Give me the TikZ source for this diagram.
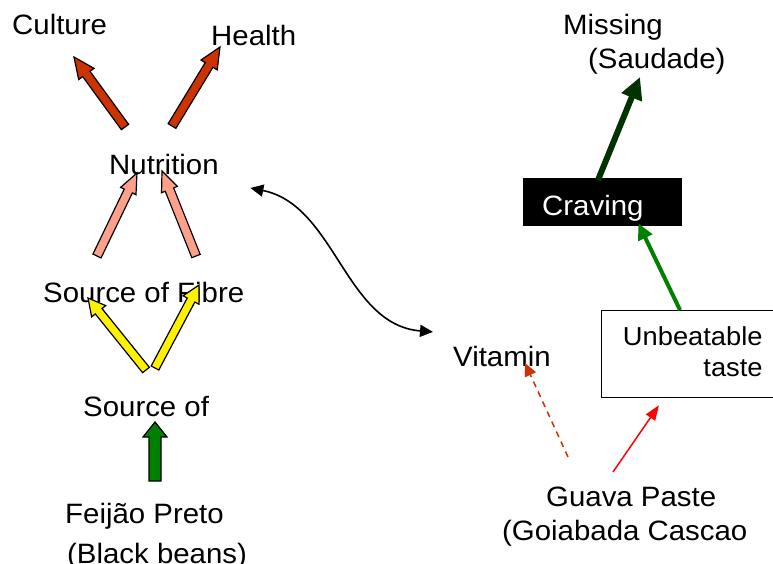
\documentclass[tikz,border=0pt]{standalone}
\usepackage{fontspec}
\setmainfont{Liberation Sans}[FakeStretch=1.05]
\usepackage{xcolor}
\usetikzlibrary{arrows.meta, calc, positioning}

\definecolor{rust}{RGB}{204,51,0}
\definecolor{salmon}{RGB}{255,160,138}
\definecolor{leafgreen}{RGB}{0,128,0}
\definecolor{darkleaf}{RGB}{0,51,0}

% fat outlined arrow: style, tail, tip, shaft half width, head half width, head length
\newcommand{\blockarrow}[6]{%
  \coordinate (hb) at ($(#3)!#6!(#2)$);
  \draw[#1] ($(#2)!#4!90:(#3)$) -- ($(hb)!#4!90:(#3)$) -- ($(hb)!#5!90:(#3)$) -- (#3)
    -- ($(hb)!#5!-90:(#3)$) -- ($(hb)!#4!-90:(#3)$) -- ($(#2)!#4!-90:(#3)$) -- cycle;}

\begin{document}
\begin{tikzpicture}[
        x=1pt, y=-1pt,
        lbl/.style={font=\fontsize{28}{34}\selectfont, inner sep=0pt, anchor=base west},
        cravebox/.style={anchor=north west, fill=black, text=white, font=\fontsize{28}{34}\selectfont,
            inner xsep=19pt, inner ysep=0pt, text width=121pt, align=left, text height=37pt, text depth=11pt},
        tastebox/.style={anchor=north west, draw=black, line width=1.2pt, font=\fontsize{26}{31}\selectfont,
            inner xsep=14pt, inner ysep=0pt, text width=147pt, align=right, text height=35pt, text depth=52pt},
        blk/.style={draw=black, line width=1.2pt, line join=miter},
        rustblk/.style={blk, fill=rust},
        pinkblk/.style={blk, fill=salmon},
        yellowblk/.style={blk, fill=yellow},
        greenblk/.style={blk, fill=leafgreen},
        swing/.style={{Triangle[length=13pt,width=12pt]}-{Triangle[length=13pt,width=12pt]}, line width=1.6pt},
        longing/.style={-{Triangle[length=22pt,width=21pt]}, line width=6pt, color=darkleaf},
        urge/.style={-{Triangle[length=16pt,width=15pt]}, line width=4pt, color=leafgreen},
        tastes/.style={-{Triangle[length=15pt,width=11pt]}, line width=1.5pt, color=red},
        maybe/.style={-{Triangle[length=13pt,width=12pt]}, line width=1.5pt, dash pattern=on 6pt off 5pt, color=rust}
    ]
    \fill[white] (0,0) rectangle (773,563);
    \useasboundingbox (0,0) rectangle (773,563);

    % --- Left chain ---
    \node[lbl] (culture) at (12,34) {Culture};
    \node[lbl] (health) at (211,45) {Health};
    \node[lbl] (nutrition) at (109,174) {Nutrition};
    \node[lbl] (fibre) at (43,302) {Source of Fibre};
    \node[lbl] (source) at (83,416) {Source of};
    % multi-line labels sit on their last line
    \node[lbl, align=left] (feijao) at (65,563) {Feijão Preto\\[6pt]\hspace*{2pt}(Black beans)};

    % --- Right chain ---
    \node[lbl, align=left] (missing) at (563,68) {Missing\\\hspace*{25pt}(Saudade)};
    \node[cravebox] (craving) at (523,178) {Craving};
    \node[tastebox] (taste) at (601,310) {Unbeatable\\taste};
    \node[lbl] (vitamin) at (453,366) {Vitamin};
    \node[lbl, align=left] (guava) at (502,540) {\hspace*{44pt}Guava Paste\\(Goiabada Cascao};

    % --- Block arrows ---
    \coordinate (cul tail) at (125,127);
    \coordinate (cul tip) at (74,57);
    \coordinate (hea tail) at (172,126);
    \coordinate (hea tip) at (220,47);
    \coordinate (nl tail) at (97,256);
    \coordinate (nl tip) at (137,173);
    \coordinate (nr tail) at (196,256);
    \coordinate (nr tip) at (162,171);
    \coordinate (fl tail) at (146,370);
    \coordinate (fl tip) at (88,298);
    \coordinate (fr tail) at (155,368);
    \coordinate (fr tip) at (199,285);
    \coordinate (so tail) at (155,481);
    \coordinate (so tip) at (155,422);

    \blockarrow{rustblk}{cul tail}{cul tip}{4.5pt}{9.5pt}{21pt}
    \blockarrow{rustblk}{hea tail}{hea tip}{4.5pt}{9.5pt}{21pt}
    \blockarrow{pinkblk}{nl tail}{nl tip}{4.5pt}{8.5pt}{20pt}
    \blockarrow{pinkblk}{nr tail}{nr tip}{4.5pt}{8.5pt}{20pt}
    \blockarrow{yellowblk}{fl tail}{fl tip}{4.3pt}{9pt}{17pt}
    \blockarrow{yellowblk}{fr tail}{fr tip}{4.3pt}{9pt}{17pt}
    \blockarrow{greenblk}{so tail}{so tip}{6pt}{12pt}{15pt}

    % --- Connectors ---
    \draw[swing] ([xshift=31.5pt,yshift=-24pt]nutrition.east) .. controls +(85,17) and +(-88,-7) .. ([xshift=-20pt,yshift=13.6pt]vitamin.north west);
    \draw[longing] ([xshift=75pt,yshift=-2pt]craving.north west) -- ([xshift=77pt,yshift=-9pt]missing.base west);
    \draw[urge] ([xshift=79pt]taste.north west) -- ([xshift=-44pt,yshift=3pt]craving.south east);
    \draw[tastes] ([xshift=111pt,yshift=68pt]guava.base west) -- ([xshift=58pt,yshift=-7pt]taste.south west);
    \draw[maybe] ([xshift=66pt,yshift=83pt]guava.base west) -- ([xshift=72pt,yshift=3pt]vitamin.base west);
\end{tikzpicture}
\end{document}
